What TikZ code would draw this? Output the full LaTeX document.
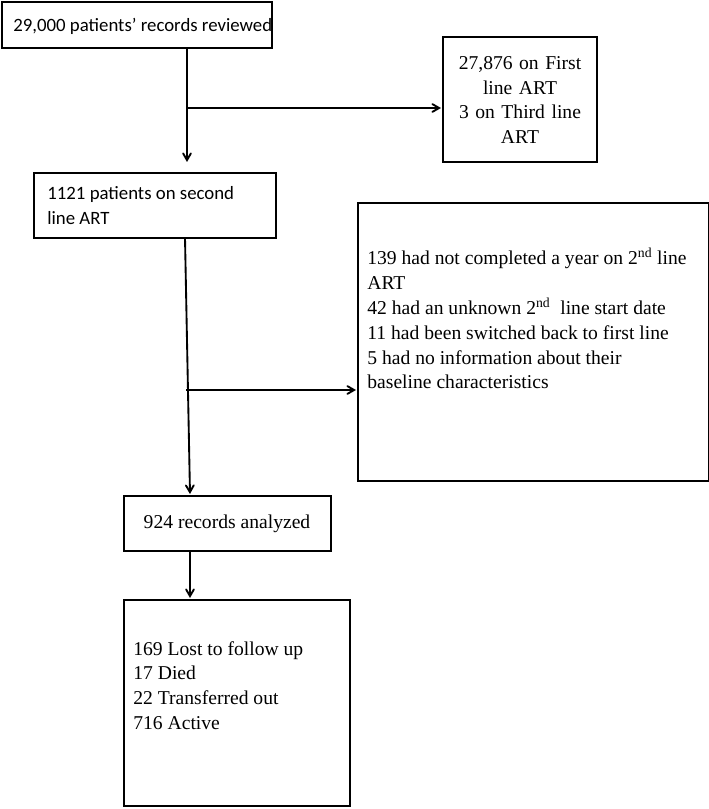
\documentclass[tikz,border=0pt]{standalone}
\usepackage{fontspec}
\setmainfont{Liberation Serif}
\newfontfamily\boxsans{Carlito}
\usetikzlibrary{arrows,positioning}

\begin{document}
\begin{tikzpicture}[x=0.75pt,y=-0.75pt,->,>=angle 60,thick,line width=1.4pt]
      \tikzstyle{every node}=[font=\fontsize{14.7}{18.6}\selectfont]
      \tikzstyle{flowbox}=[draw,line width=2pt,rectangle,inner sep=0pt]
      \useasboundingbox (0,0) rectangle (709,809);

      % boxes
      \draw[-,flowbox] (2,2) rectangle (272,48);
      \node[anchor=west,font=\boxsans\fontsize{14.1}{18}\selectfont] (reviewed) at (8,26) {29,000 patients’ records reviewed};
      \draw[-,flowbox] (443,37) rectangle (597,162);
      \node[align=center,text width=140pt] (excluded) at (520,100) {27,876 on First\\line ART\\3 on Third line\\ART};
      \draw[-,flowbox] (34,173) rectangle (276,238);
      \node[anchor=north west,align=left,font=\boxsans\fontsize{14.1}{19}\selectfont] (second) at (42,181) {1121 patients on second\\line ART};
      \draw[-,flowbox] (358,203) rectangle (709,481);
      \node[anchor=north west,align=left] (dropped) at (362,243) {139 had not completed a year on 2\textsuperscript{nd} line\\ART\\42 had an unknown 2\textsuperscript{nd}\ \ line start date\\11 had been switched back to first line\\5 had no information about their\\baseline characteristics};
      \draw[-,flowbox] (124,496) rectangle (331,551);
      \node (analyzed) at (227,524) {924 records analyzed};
      \draw[-,flowbox] (124,600) rectangle (350,806);
      \node[anchor=north west,align=left] (outcome) at (128,636) {169 Lost to follow up\\17 Died\\22 Transferred out\\716 Active};

      % connectors
      \coordinate (a1) at (187,48);
      \coordinate (a2) at (187,108);
      \coordinate (a3) at (187,162);
      \coordinate (b1) at (185,238);
      \coordinate (b2) at (186,390);
      \coordinate (b3) at (190,494);
      \draw (a1) -- (a3);
      \draw (a2) -- (441,108);
      \draw (b1) -- (b3);
      \draw (b2) -- (356,390);
      \draw (190,551) -- (190,598);
\end{tikzpicture}
\end{document}
